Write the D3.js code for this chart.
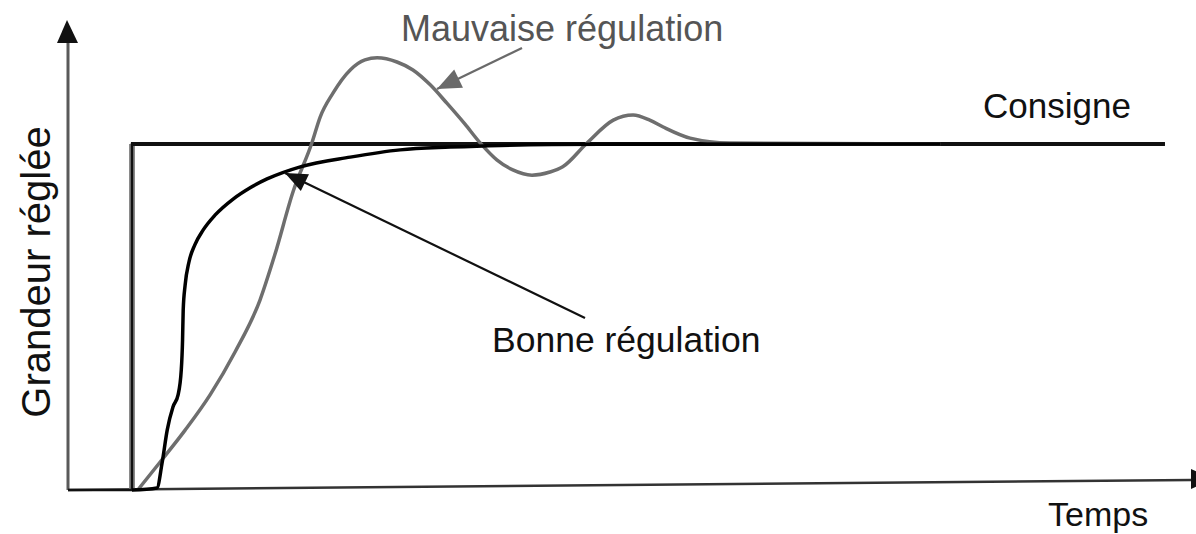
<!DOCTYPE html>
<html>
<head>
<meta charset="utf-8">
<script src="https://cdn.jsdelivr.net/npm/d3@7"></script>
<style>
  body { margin: 0; background: #fff; }
  text { font-family: "Liberation Sans", Arial, sans-serif; }
</style>
</head>
<body>
<div id="chart"></div>
<script>
const width = 1196;
const height = 534;

// Consigne (step set-point)
const consigneT = [0, 1, 17.14];
const consigneV = [0, 1, 1];

// Bonne régulation (black)
const bonneT = [1.0, 1.39, 1.47, 1.55, 1.64, 1.72, 1.77, 1.79, 1.80, 1.83, 1.89, 1.98, 2.11, 2.30, 2.58, 2.84, 3.11, 3.63, 4.41, 5.19, 5.97, 6.75, 8.31, 13.63];
const bonneV = [0, 0.006, 0.078, 0.173, 0.240, 0.275, 0.347, 0.434, 0.520, 0.592, 0.659, 0.708, 0.751, 0.795, 0.841, 0.873, 0.899, 0.934, 0.962, 0.983, 0.991, 0.996, 0.999, 1.0];

// Mauvaise régulation (grey, oscillating)
const mauvaiseT = [1.09, 1.44, 1.83, 2.22, 2.61, 3.0, 3.23, 3.52, 3.81, 3.94, 4.14, 4.41, 4.64, 4.83, 5.14, 5.39, 5.66, 5.92, 6.20, 6.44, 6.70, 6.95, 7.25, 7.53, 7.73, 8.11, 8.52, 8.83, 9.09, 9.30, 9.72, 10.34, 13.63];
const mauvaiseV = [0, 0.081, 0.173, 0.275, 0.399, 0.549, 0.679, 0.864, 1.003, 1.078, 1.147, 1.214, 1.243, 1.249, 1.237, 1.214, 1.171, 1.118, 1.058, 1.003, 0.954, 0.925, 0.910, 0.919, 0.934, 1.003, 1.069, 1.084, 1.069, 1.049, 1.017, 1.003, 1.0];

const svg = d3.select("#chart").append("svg")
    .attr("width", width)
    .attr("height", height);

const x = d3.scaleLinear().domain([0, 17.625]).range([68, 1196]);
const y = d3.scaleLinear().domain([0, 1]).range([490, 144]);

const zip = (ts, vs) => ts.map((t, i) => [t, vs[i]]);

const line = d3.line()
    .x(d => x(d[0]))
    .y(d => y(d[1]))
    .curve(d3.curveMonotoneX);

// Axes (no ticks, just arrows)
svg.append("line")
    .attr("x1", x(0)).attr("y1", y(0))
    .attr("x2", x(0)).attr("y2", 40)
    .attr("stroke", "#5a5a5a").attr("stroke-width", 3);
svg.append("path")
    .attr("d", `M${x(0) - 1},20 L${x(0) - 11},43 L${x(0) + 10},43 Z`)
    .attr("fill", "#111");

svg.append("line")
    .attr("x1", x(0)).attr("y1", y(0))
    .attr("x2", 1192).attr("y2", 480)
    .attr("stroke", "#333").attr("stroke-width", 2.5);
svg.append("path")
    .attr("d", "M1191,469 L1214,479 L1191,489 Z")
    .attr("fill", "#111");

// Consigne step: grey edge on the rising edge, black core
const stepLine = d3.line()
    .x(d => x(d[0]))
    .y(d => y(d[1]))
    .curve(d3.curveStepAfter);
svg.append("line")
    .attr("x1", x(consigneT[1])).attr("y1", y(0))
    .attr("x2", x(consigneT[1])).attr("y2", y(1))
    .attr("stroke", "#8a8a8a").attr("stroke-width", 6);
svg.append("path")
    .attr("d", stepLine(zip(consigneT, consigneV)))
    .attr("fill", "none").attr("stroke", "#111").attr("stroke-width", 2.5);
svg.append("line")
    .attr("x1", x(consigneT[1]) - 1).attr("y1", y(1))
    .attr("x2", x(consigneT[2])).attr("y2", y(1))
    .attr("stroke", "#111").attr("stroke-width", 4);

// Mauvaise régulation
svg.append("path")
    .attr("d", line(zip(mauvaiseT, mauvaiseV)))
    .attr("fill", "none").attr("stroke", "#6e6e6e").attr("stroke-width", 3.5);

// Bonne régulation
svg.append("path")
    .attr("d", line(zip(bonneT, bonneV)))
    .attr("fill", "none").attr("stroke", "#000").attr("stroke-width", 3.5);

// Annotation arrows
function arrow(x1, y1, x2, y2, color, w, head) {
    svg.append("line")
        .attr("x1", x1).attr("y1", y1).attr("x2", x2).attr("y2", y2)
        .attr("stroke", color).attr("stroke-width", w);
    const a = Math.atan2(y2 - y1, x2 - x1);
    const p1 = [x2 - head * Math.cos(a - 0.4), y2 - head * Math.sin(a - 0.4)];
    const p2 = [x2 - head * Math.cos(a + 0.4), y2 - head * Math.sin(a + 0.4)];
    svg.append("path")
        .attr("d", `M${x2},${y2} L${p1[0]},${p1[1]} L${p2[0]},${p2[1]} Z`)
        .attr("fill", color);
}
arrow(585, 318, 285, 173, "#111", 2.2, 24);
arrow(522, 48, 437, 89, "#6a6a6a", 2.2, 26);

// Labels
svg.append("text")
    .attr("x", 401).attr("y", 41)
    .attr("font-size", 36).attr("fill", "#555")
    .text("Mauvaise régulation");
svg.append("text")
    .attr("x", 983).attr("y", 118)
    .attr("font-size", 35).attr("fill", "#111")
    .text("Consigne");
svg.append("text")
    .attr("x", 492).attr("y", 352)
    .attr("font-size", 35.5).attr("fill", "#111")
    .text("Bonne régulation");
svg.append("text")
    .attr("x", 1048).attr("y", 526)
    .attr("font-size", 34).attr("fill", "#111")
    .text("Temps");
svg.append("text")
    .attr("transform", "translate(50,272) rotate(-90)")
    .attr("text-anchor", "middle")
    .attr("font-size", 40).attr("fill", "#111")
    .text("Grandeur réglée");
</script>
</body>
</html>
